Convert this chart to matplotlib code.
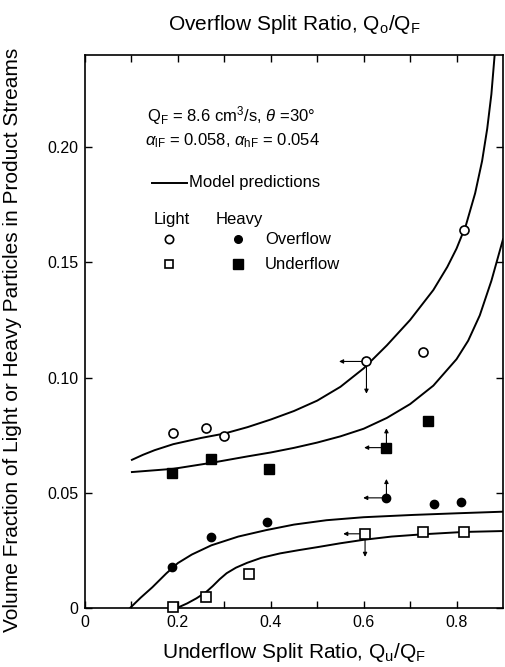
import numpy as np
import matplotlib
matplotlib.use("Agg")
import matplotlib.pyplot as plt

plt.rcParams['font.family'] = ['Liberation Sans', 'DejaVu Sans']
plt.rcParams['mathtext.fontset'] = 'custom'
plt.rcParams['mathtext.rm'] = 'Liberation Sans'
plt.rcParams['mathtext.it'] = 'Liberation Sans:italic'
plt.rcParams['mathtext.bf'] = 'Liberation Sans:bold'

# --- puntos experimentales (x = Qu/QF, y = fraccion volumetrica) ---
light_over_x = [0.190, 0.261, 0.300, 0.606, 0.728, 0.815]
light_over_y = [0.076, 0.078, 0.0745, 0.107, 0.111, 0.164]
heavy_over_x = [0.1875, 0.272, 0.392, 0.649, 0.752, 0.810]
heavy_over_y = [0.018, 0.031, 0.0374, 0.0478, 0.0452, 0.0461]
light_under_x = [0.190, 0.261, 0.353, 0.603, 0.728, 0.815]
light_under_y = [0.0005, 0.0048, 0.0148, 0.0322, 0.033, 0.033]
heavy_under_x = [0.1875, 0.272, 0.397, 0.649, 0.739]
heavy_under_y = [0.0587, 0.0648, 0.0604, 0.0696, 0.081]

# --- curvas del modelo ---
mod_lo_x = [0.101, 0.125, 0.15, 0.19, 0.25, 0.30, 0.35, 0.40, 0.45, 0.50, 0.55, 0.60, 0.65, 0.70, 0.75,
            0.78, 0.80, 0.82, 0.84, 0.855, 0.866, 0.875, 0.882]
mod_lo_y = [0.0643, 0.0665, 0.0685, 0.0711, 0.0738, 0.0757, 0.0785, 0.0818, 0.0855, 0.090, 0.096, 0.104,
            0.114, 0.125, 0.138, 0.148, 0.156, 0.166, 0.180, 0.194, 0.208, 0.223, 0.240]
mod_hu_x = [0.101, 0.19, 0.272, 0.35, 0.40, 0.45, 0.50, 0.55, 0.60, 0.65, 0.70, 0.75, 0.80, 0.825,
            0.85, 0.875, 0.90]
mod_hu_y = [0.059, 0.0604, 0.063, 0.0658, 0.0675, 0.0695, 0.0718, 0.0745, 0.0778, 0.0825, 0.0885,
            0.0965, 0.108, 0.116, 0.127, 0.142, 0.160]
mod_ho_x = [0.097, 0.12, 0.145, 0.175, 0.20, 0.23, 0.272, 0.33, 0.39, 0.45, 0.52, 0.60, 0.707, 0.80, 0.90]
mod_ho_y = [0.0, 0.0045, 0.009, 0.015, 0.0195, 0.0232, 0.0272, 0.031, 0.0338, 0.0362, 0.0381, 0.0394,
            0.0404, 0.0411, 0.0418]
mod_lu_x = [0.198, 0.22, 0.24, 0.26, 0.275, 0.29, 0.305, 0.325, 0.349, 0.38, 0.42, 0.46, 0.50, 0.55,
            0.60, 0.66, 0.728, 0.815, 0.90]
mod_lu_y = [0.0, 0.002, 0.0042, 0.0068, 0.0095, 0.0125, 0.0151, 0.0175, 0.0196, 0.0218, 0.0237,
            0.0251, 0.0264, 0.0281, 0.0296, 0.031, 0.032, 0.033, 0.0334]

# flechas: (x, y, x_fin, y_fin)
flechas = [
    (0.606, 0.107, 0.547, 0.107), (0.606, 0.107, 0.606, 0.093),
    (0.649, 0.0696, 0.601, 0.0696), (0.649, 0.0696, 0.649, 0.078),
    (0.649, 0.0478, 0.599, 0.0478), (0.649, 0.0478, 0.649, 0.056),
    (0.603, 0.0322, 0.556, 0.0322), (0.603, 0.0322, 0.603, 0.0222),
]

x_ticks = [0, 0.2, 0.4, 0.6, 0.8]
x_labels = ['0', '0.2', '0.4', '0.6', '0.8']
y_ticks = [0, 0.05, 0.10, 0.15, 0.20]
y_labels = ['0', '0.05', '0.10', '0.15', '0.20']

fig = plt.figure(figsize=(5.05, 6.67), dpi=100)
ax = fig.add_axes([85 / 505, 1 - 608 / 667, 418 / 505, 553 / 667])

lw = 1.4
ax.plot(mod_lo_x, mod_lo_y, color='black', lw=lw)
ax.plot(mod_hu_x, mod_hu_y, color='black', lw=lw)
ax.plot(mod_ho_x, mod_ho_y, color='black', lw=lw)
ax.plot(mod_lu_x, mod_lu_y, color='black', lw=lw)

for x0, y0, x1, y1 in flechas:
    ax.annotate('', xy=(x1, y1), xytext=(x0, y0),
                arrowprops=dict(arrowstyle='-|>', lw=0.8, color='black',
                                mutation_scale=6, shrinkA=0, shrinkB=0))

ax.plot(light_over_x, light_over_y, 'o', ms=6.5, mfc='white', mec='black', mew=1.2, clip_on=False, zorder=5)
ax.plot(heavy_over_x, heavy_over_y, 'o', ms=6, mfc='black', mec='black', clip_on=False, zorder=5)
ax.plot(light_under_x, light_under_y, 's', ms=6.5, mfc='white', mec='black', mew=1.2, clip_on=False, zorder=5)
ax.plot(heavy_under_x, heavy_under_y, 's', ms=7, mfc='black', mec='black', clip_on=False, zorder=5)

# leyenda manual
fs = 12
ax.text(0.148, 0.891, r'Q$_\mathrm{F}$ = 8.6 cm$^3$/s, $\theta$ =30°', transform=ax.transAxes,
        fontsize=fs, va='center')
ax.text(0.144, 0.846, r'$\alpha_\mathrm{lF}$ = 0.058, $\alpha_\mathrm{hF}$ = 0.054', transform=ax.transAxes,
        fontsize=fs, va='center')
ax.plot([0.160, 0.244], [0.769, 0.769], color='black', lw=lw, transform=ax.transAxes)
ax.text(0.248, 0.769, 'Model predictions', transform=ax.transAxes, fontsize=fs, va='center')
ax.text(0.165, 0.703, 'Light', transform=ax.transAxes, fontsize=fs, va='center')
ax.text(0.313, 0.703, 'Heavy', transform=ax.transAxes, fontsize=fs, va='center')
ax.plot([0.201], [0.667], 'o', ms=6, mfc='white', mec='black', mew=1.2, transform=ax.transAxes)
ax.plot([0.366], [0.667], 'o', ms=5.5, mfc='black', mec='black', transform=ax.transAxes)
ax.text(0.431, 0.667, 'Overflow', transform=ax.transAxes, fontsize=fs, va='center')
ax.plot([0.201], [0.622], 's', ms=6, mfc='white', mec='black', mew=1.2, transform=ax.transAxes)
ax.plot([0.366], [0.622], 's', ms=7, mfc='black', mec='black', transform=ax.transAxes)
ax.text(0.431, 0.622, 'Underflow', transform=ax.transAxes, fontsize=fs, va='center')

ax.set_xlim(0, 0.9)
ax.set_ylim(0, 0.24)
ax.set_xticks(x_ticks)
ax.set_xticklabels(x_labels, fontsize=11.5)
ax.set_xticks([0.1, 0.3, 0.5, 0.7], minor=True)
ax.set_yticks(y_ticks)
ax.set_yticklabels(y_labels, fontsize=11.5)
ax.tick_params(which='both', direction='in', length=5, width=1, top=True, right=True, pad=5)

ax.set_title(r'Overflow Split Ratio, Q$_\mathrm{o}$/Q$_\mathrm{F}$', fontsize=15, pad=18)
ax.set_xlabel(r'Underflow Split Ratio, Q$_\mathrm{u}$/Q$_\mathrm{F}$', fontsize=15, labelpad=8)
ax.set_ylabel('Volume Fraction of Light or Heavy Particles in Product Streams', fontsize=15)
ax.yaxis.set_label_coords(-0.15, 0.485)

for s in ax.spines.values():
    s.set_linewidth(1.2)

fig.savefig('out.png', dpi=100)
